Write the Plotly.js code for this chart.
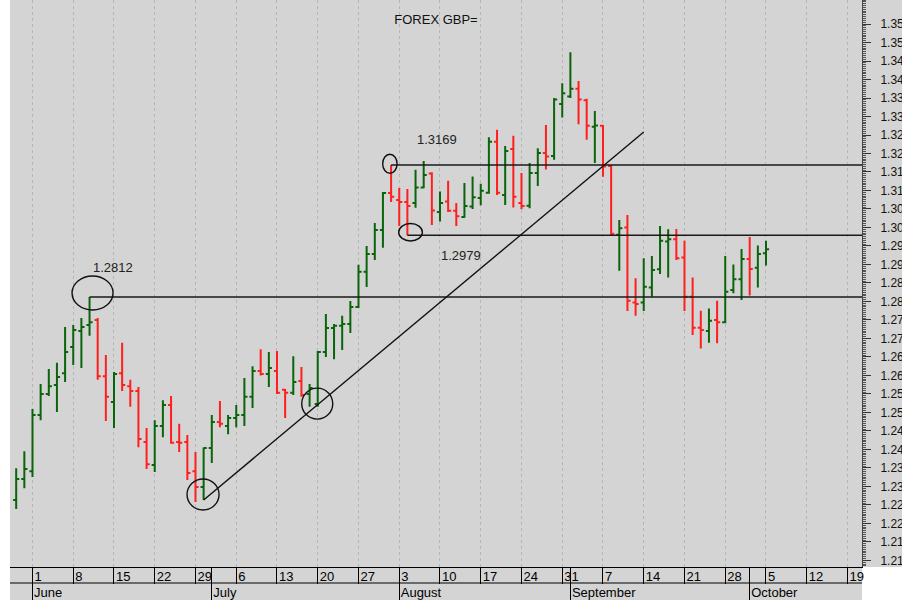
<!DOCTYPE html>
<html><head><meta charset="utf-8">
<script src="https://cdn.plot.ly/plotly-3.0.1.min.js"></script>
<style>html,body{margin:0;padding:0;background:#fff}#chart{width:902px;height:600px}</style>
</head><body><div id="chart"></div>
<script>
// Daily FOREX GBP= bars, first bar on 2020-05-28, weekdays only
const startDate = '2020-05-28';
const openVals  = [1.2263,1.2320,1.2341,1.2493,1.2550,1.2574,1.2606,1.2677,1.2720,1.2736,
                   1.2750,1.2598,1.2528,1.2606,1.2571,1.2558,1.2420,1.2358,1.2463,1.2520,
                   1.2420,1.2420,1.2341,1.2298,1.2404,1.2474,1.2463,1.2485,1.2493,1.2542,
                   1.2612,1.2604,1.2612,1.2561,1.2553,1.2585,1.2550,1.2523,1.2663,1.2728,
                   1.2734,1.2739,1.2785,1.2880,1.2928,1.2993,1.3093,1.3074,1.3069,1.3066,
                   1.3108,1.3146,1.3042,1.3070,1.3045,1.3028,1.3057,1.3080,1.3094,1.3232,
                   1.3088,1.3212,1.3066,1.3059,1.3147,1.3201,1.3193,1.3334,1.3354,1.3375,
                   1.3344,1.3272,1.3275,1.3166,1.2980,1.3000,1.2797,1.2797,1.2838,1.2887,
                   1.2962,1.2968,1.2919,1.2813,1.2729,1.2720,1.2750,1.2744,1.2831,1.2860,
                   1.2915,1.2891,1.2930];
const highVals  = [1.2349,1.2395,1.2509,1.2577,1.2617,1.2634,1.2731,1.2736,1.2755,1.2812,
                   1.2755,1.2655,1.2609,1.2688,1.2588,1.2569,1.2458,1.2479,1.2533,1.2544,
                   1.2469,1.2439,1.2393,1.2405,1.2493,1.2531,1.2493,1.2520,1.2593,1.2625,
                   1.2671,1.2663,1.2666,1.2563,1.2652,1.2623,1.2577,1.2666,1.2766,1.2739,
                   1.2761,1.2801,1.2899,1.2950,1.3012,1.3096,1.3169,1.3107,1.3104,1.3156,
                   1.3180,1.3149,1.3097,1.3126,1.3066,1.3120,1.3138,1.3118,1.3244,1.3264,
                   1.3220,1.3248,1.3147,1.3174,1.3214,1.3277,1.3350,1.3390,1.3474,1.3396,
                   1.3348,1.3315,1.3277,1.3169,1.3020,1.3034,1.2863,1.2917,1.2923,1.3004,
                   1.2995,1.2996,1.2964,1.2865,1.2775,1.2781,1.2802,1.2923,1.2900,1.2942,
                   1.2974,1.2951,1.2964];
const lowVals   = [1.2239,1.2295,1.2325,1.2479,1.2544,1.2501,1.2582,1.2628,1.2620,1.2707,
                   1.2588,1.2477,1.2458,1.2558,1.2515,1.2406,1.2347,1.2339,1.2433,1.2415,
                   1.2393,1.2317,1.2258,1.2263,1.2363,1.2460,1.2441,1.2460,1.2463,1.2512,
                   1.2600,1.2569,1.2550,1.2485,1.2547,1.2542,1.2515,1.2515,1.2650,1.2644,
                   1.2669,1.2715,1.2782,1.2839,1.2912,1.2945,1.3069,1.3004,1.2979,1.3053,
                   1.3106,1.3007,1.3016,1.3042,1.3004,1.3026,1.3050,1.3060,1.3091,1.3088,
                   1.3061,1.3054,1.3049,1.3052,1.3112,1.3157,1.3183,1.3297,1.3350,1.3279,
                   1.3237,1.3174,1.3137,1.2978,1.2883,1.2774,1.2761,1.2774,1.2813,1.2874,
                   1.2865,1.2912,1.2774,1.2709,1.2673,1.2688,1.2687,1.2741,1.2822,1.2804,
                   1.2816,1.2838,1.2897];
const closeVals = [1.2320,1.2347,1.2493,1.2550,1.2571,1.2596,1.2663,1.2723,1.2731,1.2744,
                   1.2598,1.2542,1.2604,1.2574,1.2558,1.2428,1.2360,1.2463,1.2520,1.2418,
                   1.2418,1.2336,1.2298,1.2404,1.2474,1.2469,1.2485,1.2493,1.2542,1.2612,
                   1.2604,1.2620,1.2553,1.2553,1.2582,1.2547,1.2566,1.2663,1.2728,1.2734,
                   1.2739,1.2785,1.2880,1.2928,1.2993,1.3093,1.3083,1.3069,1.3058,1.3108,
                   1.3142,1.3046,1.3066,1.3045,1.3030,1.3058,1.3082,1.3099,1.3232,1.3094,
                   1.3207,1.3083,1.3058,1.3147,1.3201,1.3192,1.3346,1.3363,1.3375,1.3346,
                   1.3275,1.3276,1.3165,1.2983,1.2998,1.2802,1.2793,1.2840,1.2885,1.2964,
                   1.2968,1.2917,1.2813,1.2729,1.2723,1.2748,1.2744,1.2826,1.2860,1.2915,
                   1.2888,1.2928,1.2941];

const weekTickDates = ['2020-06-01','2020-06-08','2020-06-15','2020-06-22','2020-06-29',
                       '2020-07-06','2020-07-13','2020-07-20','2020-07-27',
                       '2020-08-03','2020-08-10','2020-08-17','2020-08-24','2020-08-31',
                       '2020-09-07','2020-09-14','2020-09-21','2020-09-28',
                       '2020-10-05','2020-10-12','2020-10-19'];
const weekTickText = ['1','8','15','22','29','6','13','20','27','3','10','17','24','31',
                      '7','14','21','28','5','12','19'];
const monthStartDates = ['2020-06-01','2020-07-01','2020-08-03','2020-09-01','2020-10-01'];
const monthNames = ['June','July','August','September','October'];
const yTickVals = [1.210,1.215,1.220,1.225,1.230,1.235,1.240,1.245,1.250,1.255,
                   1.260,1.265,1.270,1.275,1.280,1.285,1.290,1.295,1.300,1.305,
                   1.310,1.315,1.320,1.325,1.330,1.335,1.340,1.345,1.350,1.355];
// trend line drawn on the chart: from the 2020-06-30 low to 2020-09-14
const trendStartDate = '2020-06-30';
const trendEndDate = '2020-09-14';
const trendEndValue = 1.3258;

function tradingIndex(dateStr){
  const d0 = new Date(startDate + 'T00:00:00Z');
  const d1 = new Date(dateStr + 'T00:00:00Z');
  let n = 0;
  for (let d = new Date(d0); d < d1; d.setUTCDate(d.getUTCDate() + 1)) {
    const w = d.getUTCDay();
    if (w !== 0 && w !== 6) n++;
  }
  return n;
}
const xIdx = openVals.map((_, i) => i);
const xRange = [-0.76, 103.78];

const iPeak = highVals.indexOf(Math.max(...highVals.slice(0, 15)));   // 1.2812
const iHigh2 = 46;   // 1.3169
const iLow2 = 48;    // 1.2979
const iTrend0 = tradingIndex(trendStartDate);
const iTrend1 = tradingIndex(trendEndDate);
const iCircle5 = 37;

const FONT = 'Arial, "Liberation Sans", sans-serif';
const BG = '#d4d4d4';

const traces = [{
  type: 'ohlc', x: xIdx, open: openVals, high: highVals, low: lowVals, close: closeVals,
  increasing: {line: {color: '#0a640a', width: 2}},
  decreasing: {line: {color: '#ff1f1f', width: 2}},
  tickwidth: 0.38, hoverinfo: 'skip', showlegend: false
}, {
  type: 'scatter', x: [], y: [], xaxis: 'x2', yaxis: 'y', showlegend: false, hoverinfo: 'skip'
}];

function ell(ix, val, x0, x1, y0, y1){
  return {type: 'circle', xref: 'x', yref: 'y', xsizemode: 'pixel', ysizemode: 'pixel',
    xanchor: ix, yanchor: val, x0: x0, x1: x1, y0: y0, y1: y1,
    line: {color: '#111', width: 1.4}, fillcolor: 'rgba(0,0,0,0)'};
}
function hline(ix, val){
  return {type: 'line', xref: 'x', yref: 'y', x0: ix, x1: xRange[1], y0: val, y1: val,
    line: {color: '#1a1a1a', width: 1.5}};
}

const shapes = [
  {type: 'rect', xref: 'paper', yref: 'paper', x0: 0, x1: 1, y0: 0, y1: 0.055,
   fillcolor: BG, line: {width: 0}, layer: 'below'},
  {type: 'rect', xref: 'paper', yref: 'paper', x0: 1, x1: 1.06, y0: 0.055, y1: 1,
   fillcolor: BG, line: {width: 0}, layer: 'below'},
  {type: 'line', xref: 'paper', yref: 'paper', x0: 0, x1: 1, y0: 17/600, y1: 17/600,
   line: {color: '#000', width: 1}},
  hline(iPeak, highVals[iPeak]),
  hline(iHigh2, highVals[iHigh2]),
  hline(iLow2, lowVals[iLow2]),
  {type: 'line', xref: 'x', yref: 'y', x0: iTrend0, y0: lowVals[iTrend0], x1: iTrend1, y1: trendEndValue,
   line: {color: '#111', width: 1.4}},
  ell(iPeak, highVals[iPeak], -17.5, 23.5, -13, 21),
  ell(iHigh2, highVals[iHigh2], -8.4, 6, -8.3, 10.7),
  ell(iLow2, lowVals[iLow2], -8.7, 15, -5.7, 11.7),
  ell(iTrend0, lowVals[iTrend0], -16.6, 15.4, -10, 21),
  ell(iCircle5, lowVals[iCircle5], -16, 15, -12.3, 18.7)
];

function lbl(ix, val, dx, dy){
  return {xref: 'x', yref: 'y', x: ix, y: val, text: val.toFixed(4), showarrow: false,
    xshift: dx, yshift: dy, font: {family: FONT, size: 13, color: '#222'}};
}
const annotations = [
  lbl(iPeak, highVals[iPeak], 23, 30),
  lbl(iHigh2, highVals[iHigh2], 46, 25),
  lbl(iLow2, lowVals[iLow2], 54, -20)
];

const layout = {
  width: 902, height: 600,
  margin: {l: 10, r: 40, t: 0, b: 0, pad: 0},
  paper_bgcolor: '#ffffff', plot_bgcolor: BG,
  font: {family: FONT, size: 13, color: '#000'},
  showlegend: false, dragmode: false,
  title: {text: 'FOREX GBP=', x: 0.5, xref: 'paper', xanchor: 'center', y: 0.968, yref: 'container', yanchor: 'middle',
          font: {family: FONT, size: 13, color: '#111'}},
  xaxis: {range: xRange, anchor: 'y', rangeslider: {visible: false}, fixedrange: true,
          tickmode: 'array', tickvals: weekTickDates.map(tradingIndex), ticktext: weekTickText,
          ticks: 'outside', ticklen: 16, tickcolor: '#000', tickwidth: 1,
          ticklabelposition: 'outside right', ticklabelstandoff: -3, ticklabelshift: 1,
          tickfont: {family: FONT, size: 13, color: '#000'},
          showline: true, linecolor: '#000', linewidth: 1,
          showgrid: true, gridcolor: '#b6b6b6', griddash: 'dot', gridwidth: 1, zeroline: false},
  xaxis2: {range: xRange, overlaying: 'x', anchor: 'y', side: 'bottom', fixedrange: true,
          tickmode: 'array', tickvals: monthStartDates.map(tradingIndex), ticktext: monthNames,
          ticks: 'outside', ticklen: 33, tickcolor: '#000', tickwidth: 1,
          ticklabelposition: 'outside right', ticklabelstandoff: 13, ticklabelshift: 1,
          tickfont: {family: FONT, size: 13, color: '#000'},
          showline: false, showgrid: false, zeroline: false},
  yaxis: {range: [1.2082, 1.3615], domain: [0.055, 1], side: 'right', fixedrange: true,
          tickmode: 'array', tickvals: yTickVals, tickformat: '.3f',
          ticks: 'outside', ticklen: 8, tickcolor: '#333', tickwidth: 1,
          ticklabelstandoff: 7,
          minor: {dtick: 0.0005, tick0: 1.21, ticks: 'outside', ticklen: 3, tickcolor: '#555', tickwidth: 1, showgrid: false},
          tickfont: {family: FONT, size: 12, color: '#111'},
          showline: true, linecolor: '#444', linewidth: 1,
          showgrid: false, zeroline: false},
  shapes: shapes,
  annotations: annotations
};

Plotly.newPlot('chart', traces, layout, {staticPlot: true, displayModeBar: false});
</script>
</body></html>
